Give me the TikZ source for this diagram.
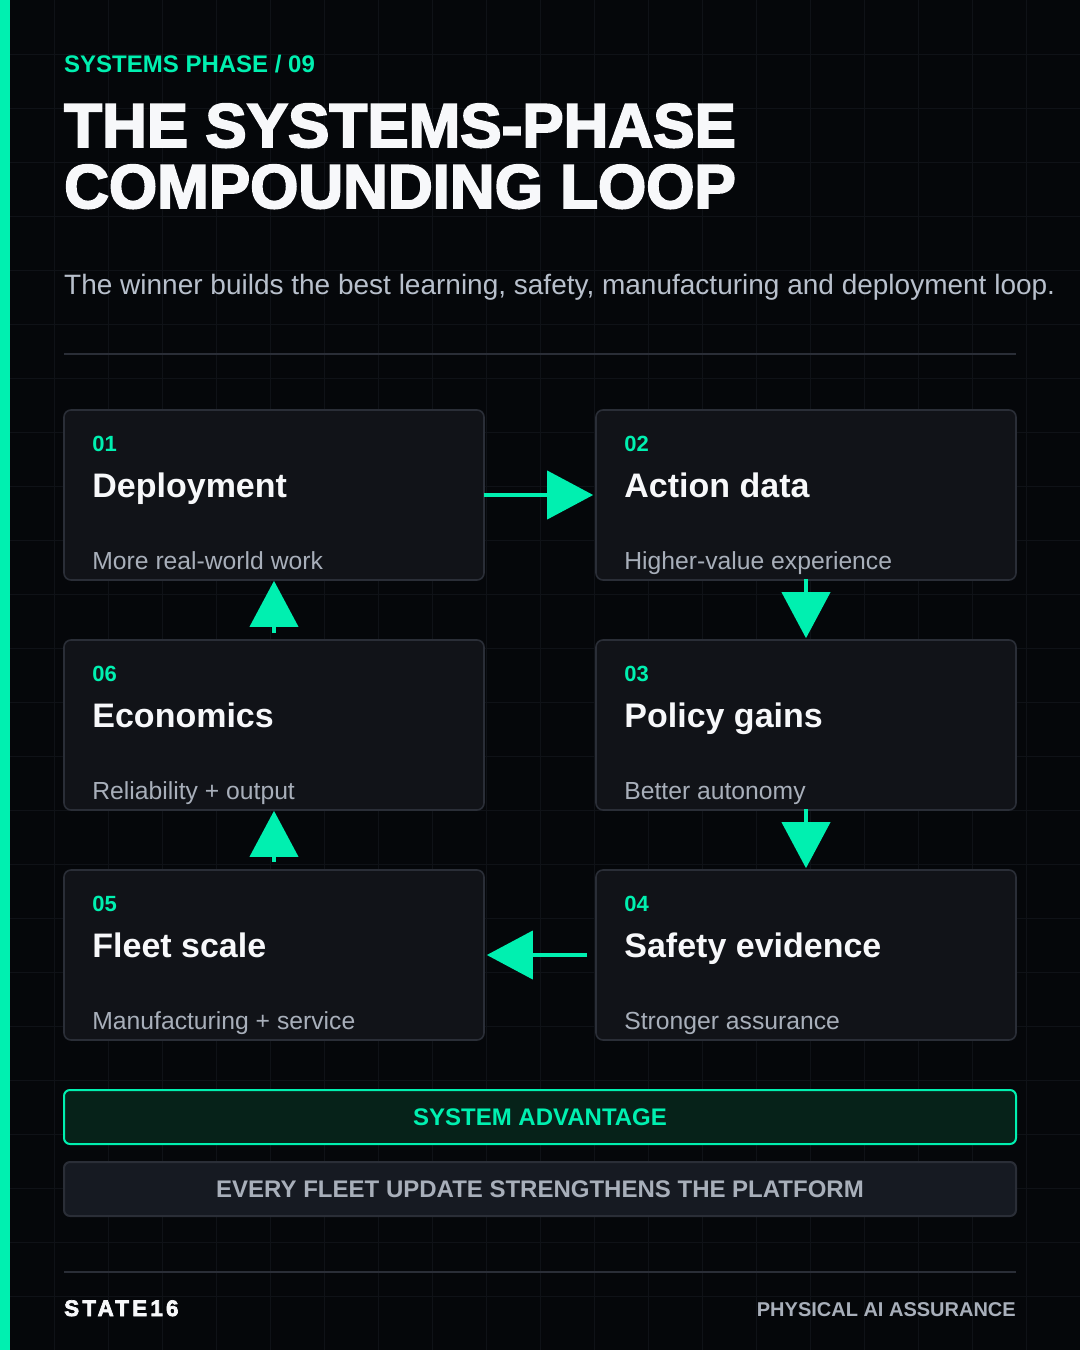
\documentclass[tikz,border=0pt]{standalone}
\usepackage{fontspec}
\setmainfont{Liberation Sans}
\newfontfamily\heavyfont[FakeBold=3]{Liberation Sans Bold}
\usepackage{tikz}
\usetikzlibrary{arrows.meta,positioning}
\definecolor{ink}{HTML}{05070A}
\definecolor{gridc}{HTML}{0F1217}
\definecolor{mint}{HTML}{00F0B0}
\definecolor{card}{HTML}{111318}
\definecolor{edge}{HTML}{2A2E37}
\definecolor{muted}{HTML}{A8AFBA}
\definecolor{haze}{HTML}{B8C0CC}
\definecolor{snow}{HTML}{F7F8FA}
\definecolor{moss}{HTML}{062219}
\definecolor{slate}{HTML}{161A22}

\begin{document}
\begin{tikzpicture}[x=1pt,y=-1pt,
  node distance=58.4pt and 110.4pt,
  stage/.style={draw=edge,line width=1.6pt,rounded corners=7pt,fill=card,
    minimum width=420pt,minimum height=170pt,inner sep=0pt},
  num/.style={anchor=base west,inner sep=0pt,text=mint,
    font=\bfseries\fontsize{22}{22}\selectfont},
  ttl/.style={anchor=base west,inner sep=0pt,text=snow,
    font=\bfseries\fontsize{34}{34}\selectfont},
  sub/.style={anchor=base west,inner sep=0pt,text=muted,
    font=\fontsize{24.7}{25}\selectfont},
  flow/.style={-{Triangle[length=46pt,width=48pt]},line width=4pt,draw=mint},
  banner/.style={rounded corners=6pt,line width=2pt,minimum width=952pt,
    minimum height=54pt,inner sep=0pt,font=\bfseries\fontsize{24}{24}\selectfont},
  rule/.style={draw=edge,line width=2pt}]
\useasboundingbox (0,0) rectangle (1080,1350);
\fill[ink] (0,0) rectangle (1080,1350);
\foreach \g in {54,108,...,1026} \draw[gridc,line width=1pt] (\g,0) -- (\g,1350);
\foreach \g in {54,108,...,1296} \draw[gridc,line width=1pt] (0,\g) -- (1080,\g);
\fill[mint] (0,0) rectangle (10,1350);
% heading
\node[anchor=base west,inner sep=0pt,text=mint,font=\bfseries\fontsize{24}{24}\selectfont]
  (kicker) at (64,72) {SYSTEMS PHASE / 09};
\node[anchor=base west,inner sep=0pt,text=snow,font=\heavyfont\fontsize{62}{62}\selectfont]
  (head1) at (64,147) {THE SYSTEMS-PHASE};
\node[anchor=base west,inner sep=0pt,text=snow,font=\heavyfont\fontsize{62}{62}\selectfont]
  (head2) at (64,208) {COMPOUNDING LOOP};
\node[anchor=base west,inner sep=0pt,text=haze,font=\fontsize{28}{28}\selectfont]
  (lede) at (64,294) {The winner builds the best learning, safety, manufacturing and deployment loop.};
\draw[rule] (64,354) -- (1016,354);
% loop stages
\node[stage] (deploy) at (274,495) {};
\node[stage,right=of deploy] (action) {};
\node[stage,below=of action] (policy) {};
\node[stage,below=of policy] (safety) {};
\node[stage,left=of safety] (fleet) {};
\node[stage,above=of fleet] (econ) {};
\node[num] (n1) at ([shift={(29,42)}]deploy.north west) {01};
\node[ttl] (t1) at ([shift={(29,88)}]deploy.north west) {Deployment};
\node[sub] (s1) at ([shift={(29,160)}]deploy.north west) {More real-world work};
\node[num] (n2) at ([shift={(29,42)}]action.north west) {02};
\node[ttl] (t2) at ([shift={(29,88)}]action.north west) {Action data};
\node[sub] (s2) at ([shift={(29,160)}]action.north west) {Higher-value experience};
\node[num] (n3) at ([shift={(29,42)}]policy.north west) {03};
\node[ttl] (t3) at ([shift={(29,88)}]policy.north west) {Policy gains};
\node[sub] (s3) at ([shift={(29,160)}]policy.north west) {Better autonomy};
\node[num] (n4) at ([shift={(29,42)}]safety.north west) {04};
\node[ttl] (t4) at ([shift={(29,88)}]safety.north west) {Safety evidence};
\node[sub] (s4) at ([shift={(29,160)}]safety.north west) {Stronger assurance};
\node[num] (n5) at ([shift={(29,42)}]fleet.north west) {05};
\node[ttl] (t5) at ([shift={(29,88)}]fleet.north west) {Fleet scale};
\node[sub] (s5) at ([shift={(29,160)}]fleet.north west) {Manufacturing + service};
\node[num] (n6) at ([shift={(29,42)}]econ.north west) {06};
\node[ttl] (t6) at ([shift={(29,88)}]econ.north west) {Economics};
\node[sub] (s6) at ([shift={(29,160)}]econ.north west) {Reliability + output};
\draw[flow,shorten <=-1pt,shorten >=2pt] (deploy.east) -- (action.west);
\draw[flow,shorten <=-2pt,shorten >=1pt] (action.south) -- (policy.north);
\draw[flow,shorten <=-2pt,shorten >=1pt] (policy.south) -- (safety.north);
\draw[flow,shorten <=8pt,shorten >=2pt] (safety.west) -- (fleet.east);
\draw[flow,shorten <=7pt] (fleet.north) -- (econ.south);
\draw[flow,shorten <=6pt] (econ.north) -- (deploy.south);
% summary banners
\node[banner,draw=mint,fill=moss,text=mint] (adv) at (540,1117) {SYSTEM ADVANTAGE};
\node[banner,draw=edge,fill=slate,text=muted,below=16pt of adv] (update)
  {EVERY FLEET UPDATE STRENGTHENS THE PLATFORM};
% footer
\draw[rule] (64,1272) -- (1016,1272);
\node[anchor=base west,inner sep=0pt,text=snow,
  font=\heavyfont\fontsize{22.5}{22}\addfontfeature{LetterSpace=14}\selectfont]
  (brand) at (64,1316) {STATE16};
\node[anchor=base east,inner sep=0pt,text=muted,font=\bfseries\fontsize{20}{20}\selectfont]
  (tagline) at (1016,1316) {PHYSICAL AI ASSURANCE};
\end{tikzpicture}
\end{document}
